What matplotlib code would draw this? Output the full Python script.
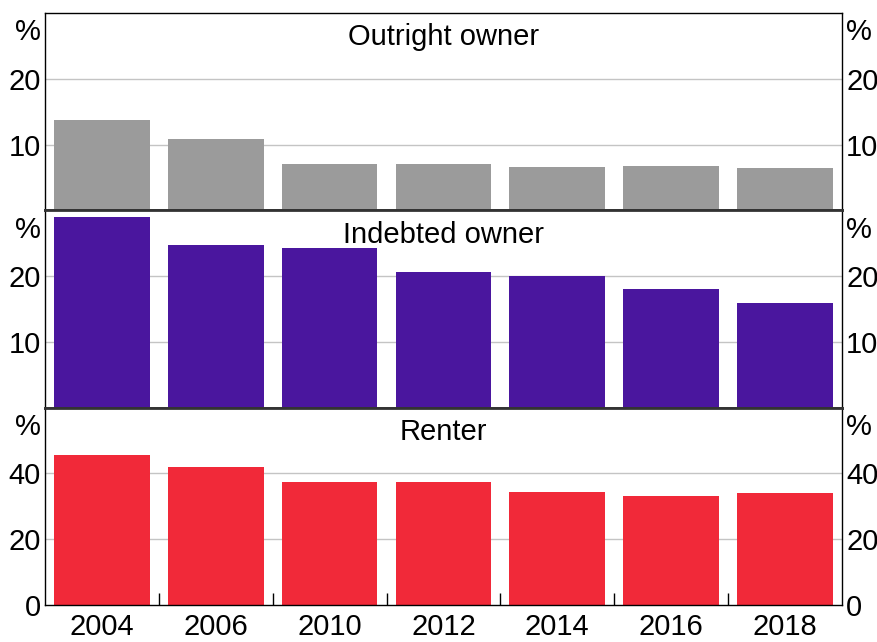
import numpy as np
import matplotlib
matplotlib.use("Agg")
import matplotlib.pyplot as plt

plt.rcParams['font.family'] = ['Liberation Sans', 'DejaVu Sans']
plt.rcParams['font.size'] = 21

# Data (per cent of households)
years = ['2004', '2006', '2010', '2012', '2014', '2016', '2018']
outright = [13.7, 10.8, 7.0, 7.0, 6.6, 6.7, 6.4]
indebted = [29.0, 24.8, 24.2, 20.6, 20.0, 18.0, 15.9]
renter = [45.6, 41.9, 37.4, 37.4, 34.3, 33.1, 34.0]

titles = ['Outright owner', 'Indebted owner', 'Renter']
colours = ['#9b9b9b', '#4a169e', '#f12939']
ymax = [30, 30, 60]
gridvals = [[10, 20], [10, 20], [20, 40]]
series = [outright, indebted, renter]

fig = plt.figure(figsize=(8.77, 6.42), dpi=100)
gs = fig.add_gridspec(3, 1, left=0.0513, right=0.960, top=0.9798,
                      bottom=0.0576, hspace=0)

x = np.arange(len(years))
for i in range(3):
    ax = fig.add_subplot(gs[i])
    ax.bar(x, series[i], width=0.84, color=colours[i], zorder=2)
    ax.set_xlim(-0.5, len(years) - 0.5)
    ax.set_ylim(0, ymax[i])

    for t in gridvals[i]:
        ax.axhline(t, color='#c4c4c4', lw=1, zorder=1)

    # tick labels: grid values, "0" on the bottom panel, "%" near the top
    ticks = list(gridvals[i])
    labels = [str(t) for t in ticks]
    if i == 2:
        ticks = [0] + ticks
        labels = ['0'] + labels
    ticks.append(ymax[i] * 0.918)
    labels.append('%')
    ax.set_yticks(ticks)
    ax.set_yticklabels(labels)
    ax.tick_params(axis='y', length=0, pad=3, labelleft=True, labelright=True)

    ax.text(0.5, 0.877, titles[i], transform=ax.transAxes, ha='center',
            va='center')

    for s in ['left', 'right']:
        ax.spines[s].set_linewidth(1)
        ax.spines[s].set_color('black')
    ax.spines['top'].set_linewidth(2 if i > 0 else 1)
    ax.spines['top'].set_color('#333333' if i > 0 else 'black')
    ax.spines['bottom'].set_linewidth(2 if i < 2 else 1)
    ax.spines['bottom'].set_color('#333333' if i < 2 else 'black')

    if i < 2:
        ax.set_xticks([])
    else:
        ax.set_xticks(x)
        ax.set_xticklabels(years)
        ax.tick_params(axis='x', which='major', length=0, pad=6)
        ax.set_xticks(x[:-1] + 0.5, minor=True)
        ax.tick_params(axis='x', which='minor', direction='in', length=8.5,
                       width=1, color='black')

fig.savefig('out.png', dpi=100)
